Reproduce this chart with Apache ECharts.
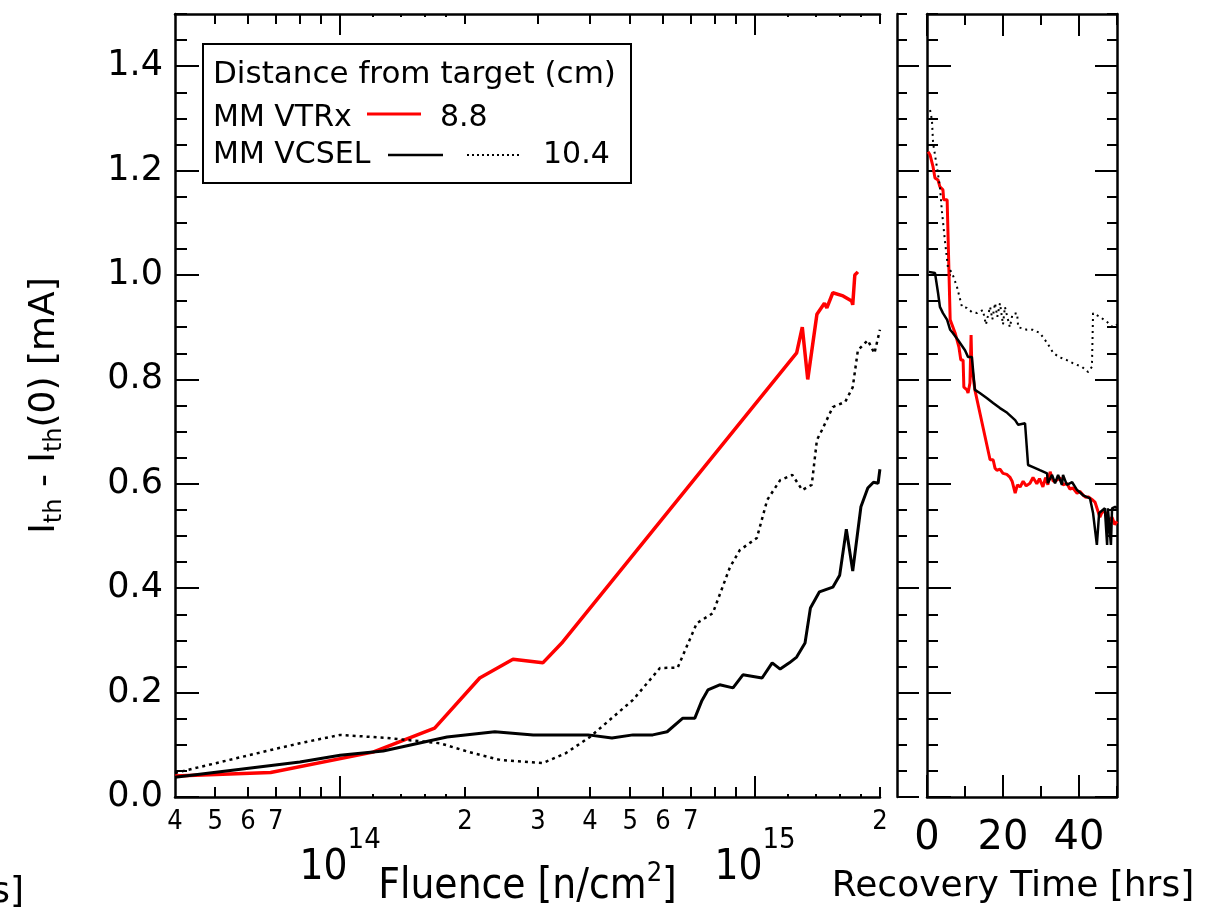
<!DOCTYPE html>
<html><head><meta charset="utf-8">
<script src="https://cdn.jsdelivr.net/npm/echarts@6/dist/echarts.min.js"></script>
<style>html,body{margin:0;padding:0;background:#fff}#c{width:1222px;height:911px}</style>
</head><body><div id="c"></div>
<script>
// ---------------- data ----------------
// MM VTRx, 8.8 cm : threshold shift vs fluence
const vtrxFluence = [4.0e13, 6.8e13, 1.2e14, 1.69e14, 2.17e14, 2.61e14, 3.08e14, 3.44e14, 1.26e15, 1.30e15, 1.34e15, 1.41e15, 1.47e15, 1.49e15, 1.54e15, 1.63e15, 1.71e15, 1.72e15, 1.74e15, 1.77e15];
const vtrxShift   = [0.040, 0.047, 0.086, 0.132, 0.228, 0.264, 0.257, 0.297, 0.851, 0.900, 0.800, 0.925, 0.946, 0.937, 0.966, 0.960, 0.950, 0.943, 1.000, 1.006];
// MM VCSEL, 8.8 cm (solid)
const vcselFluence = [4.0e13, 8.0e13, 1.0e14, 1.27e14, 1.81e14, 2.36e14, 2.92e14, 3.96e14, 4.52e14, 5.08e14, 5.67e14, 6.14e14, 6.70e14, 7.16e14, 7.45e14, 7.7e14, 8.22e14, 8.85e14, 9.35e14, 1.04e15, 1.10e15, 1.15e15, 1.21e15, 1.26e15, 1.32e15, 1.36e15, 1.43e15, 1.54e15, 1.60e15, 1.66e15, 1.72e15, 1.80e15, 1.87e15, 1.93e15, 1.98e15, 2.0e15];
const vcselShift   = [0.038, 0.067, 0.080, 0.088, 0.115, 0.125, 0.119, 0.119, 0.113, 0.119, 0.119, 0.125, 0.151, 0.151, 0.185, 0.205, 0.215, 0.209, 0.234, 0.228, 0.257, 0.245, 0.257, 0.268, 0.295, 0.362, 0.393, 0.402, 0.425, 0.513, 0.433, 0.556, 0.592, 0.603, 0.601, 0.628];
// MM VCSEL, 10.4 cm (dotted)
const vcselFarFluence = [4.0e13, 6.8e13, 8.0e13, 1.0e14, 1.30e14, 1.74e14, 2.05e14, 2.43e14, 3.08e14, 3.5e14, 4.0e14, 5.08e14, 5.90e14, 6.51e14, 7.24e14, 7.91e14, 8.70e14, 9.19e14, 1.01e15, 1.07e15, 1.15e15, 1.23e15, 1.30e15, 1.37e15, 1.41e15, 1.45e15, 1.54e15, 1.65e15, 1.72e15, 1.77e15, 1.87e15, 1.94e15, 2.0e15];
const vcselFarShift   = [0.046, 0.090, 0.103, 0.119, 0.113, 0.103, 0.086, 0.071, 0.065, 0.084, 0.115, 0.186, 0.247, 0.248, 0.333, 0.352, 0.440, 0.473, 0.496, 0.569, 0.607, 0.617, 0.588, 0.598, 0.684, 0.703, 0.747, 0.757, 0.785, 0.856, 0.875, 0.850, 0.895];

// recovery (hours after irradiation)
const vtrxHours    = [0.3, 0.8, 1.6, 2.1, 2.9, 3.4, 4.2, 4.4, 5.3, 6.1, 7.4, 8.4, 8.9, 9.5, 9.7, 10.5, 10.8, 11.3, 11.6, 11.8, 12.6, 16.6, 17.4, 17.9, 18.4, 19.2, 20.0, 21.0, 21.8, 22.4, 23.2, 23.8, 24.5, 25.3, 26.1, 27.1, 27.9, 28.9, 29.6, 30.5, 31.2, 31.8, 32.4, 33.2, 34.2, 35.0, 35.8, 36.8, 37.6, 38.4, 39.5, 40.2, 41.1, 41.8, 42.4, 43.4, 44.2, 44.7, 45.1, 45.5, 46.2, 47.1, 47.8, 48.7, 49.4, 50.0];
const vtrxRecovery = [1.236, 1.230, 1.207, 1.186, 1.182, 1.169, 1.163, 1.144, 1.144, 0.914, 0.889, 0.862, 0.837, 0.837, 0.785, 0.780, 0.774, 0.793, 0.885, 0.824, 0.780, 0.646, 0.646, 0.630, 0.626, 0.628, 0.620, 0.618, 0.613, 0.605, 0.582, 0.598, 0.594, 0.605, 0.596, 0.601, 0.612, 0.600, 0.610, 0.594, 0.612, 0.598, 0.623, 0.605, 0.607, 0.612, 0.598, 0.601, 0.590, 0.592, 0.582, 0.586, 0.578, 0.574, 0.575, 0.570, 0.565, 0.563, 0.545, 0.536, 0.548, 0.544, 0.528, 0.536, 0.522, 0.528];
const vcselHours    = [0.5, 2.1, 2.9, 3.4, 4.2, 5.3, 6.1, 6.8, 8.2, 10.0, 10.8, 11.8, 12.6, 13.9, 15.8, 17.4, 19.2, 21.1, 23.2, 24.0, 25.8, 26.3, 26.6, 27.9, 29.7, 31.6, 31.8, 32.9, 33.7, 34.5, 35.5, 35.8, 36.8, 38.2, 39.5, 41.1, 42.9, 43.7, 44.7, 45.3, 46.8, 47.4, 47.6, 48.4, 48.7, 49.5, 50.0];
const vcselRecovery = [1.006, 1.004, 0.966, 0.939, 0.927, 0.914, 0.895, 0.889, 0.875, 0.856, 0.843, 0.843, 0.780, 0.774, 0.764, 0.755, 0.745, 0.736, 0.722, 0.713, 0.716, 0.713, 0.636, 0.632, 0.626, 0.620, 0.601, 0.617, 0.601, 0.617, 0.598, 0.617, 0.598, 0.603, 0.588, 0.578, 0.572, 0.544, 0.483, 0.544, 0.553, 0.483, 0.553, 0.483, 0.553, 0.556, 0.553];
const vcselFarHours    = [0.8, 1.3, 1.6, 2.6, 3.4, 3.9, 4.7, 5.5, 6.6, 7.9, 9.2, 10.5, 11.8, 13.2, 14.7, 15.5, 16.6, 17.2, 17.9, 18.5, 19.2, 20.0, 20.5, 21.8, 22.5, 23.7, 24.0, 26.3, 27.9, 29.7, 31.6, 33.2, 34.7, 36.8, 38.4, 40.8, 42.4, 43.4, 43.7, 45.5, 47.4, 48.9, 50.0];
const vcselFarRecovery = [1.316, 1.297, 1.253, 1.207, 1.169, 1.124, 1.067, 1.015, 1.004, 0.977, 0.939, 0.937, 0.929, 0.927, 0.933, 0.905, 0.939, 0.915, 0.946, 0.920, 0.946, 0.905, 0.939, 0.900, 0.925, 0.927, 0.900, 0.895, 0.895, 0.889, 0.870, 0.851, 0.843, 0.837, 0.831, 0.824, 0.814, 0.824, 0.927, 0.920, 0.910, 0.900, 0.905];

// tick values / labels
const fluenceDigitLabels = [4e13, 5e13, 6e13, 7e13, 2e14, 3e14, 4e14, 5e14, 6e14, 7e14, 2e15];
const fluenceDecades = [1e14, 1e15];
const fluenceMinorTicks = [5e13, 6e13, 7e13, 8e13, 9e13, 2e14, 3e14, 4e14, 5e14, 6e14, 7e14, 8e14, 9e14, 2e15];
const fluenceSmallTicks = [1.2e14, 1.4e14, 1.6e14, 1.8e14, 1.2e15, 1.4e15, 1.6e15, 1.8e15];
const shiftLabels = [0, 0.2, 0.4, 0.6, 0.8, 1.0, 1.2, 1.4];
const shiftMinorTicks = [0.05, 0.1, 0.15, 0.25, 0.3, 0.35, 0.45, 0.5, 0.55, 0.65, 0.7, 0.75, 0.85, 0.9, 0.95, 1.05, 1.1, 1.15, 1.25, 1.3, 1.35, 1.45, 1.5];
const hoursLabels = [0, 20, 40];
const hoursMinorTicks = [10, 30, 50];

// ---------------- styling ----------------
const WIDE = 'DejaVu Sans';
const NARROW = "'Liberation Sans Narrow','DejaVu Sans Condensed','Liberation Sans'";
const LINE = {show: true, onZero: false, lineStyle: {color: '#000', width: 2.5}};
const NOLINE = {show: false, onZero: false};
const NOLABEL = {show: false};
function ticks(values, len) {
  return {show: true, inside: true, length: len, customValues: values, lineStyle: {color: '#000', width: 2}};
}
function pairs(xs, ys) { return xs.map((x, i) => [x, ys[i]]); }
function leadingDigit(v) { const e = Math.floor(Math.log10(v) + 1e-9); return String(Math.round(v / Math.pow(10, e))); }
function decadeLabel(v) { return '{b|10}{s|' + Math.round(Math.log10(v)) + '}'; }

function fluenceAxis(position, line, tv, len, label, extra) {
  return Object.assign({gridIndex: 0, type: 'log', logBase: 10, min: 4e13, max: 2.001e15, position: position,
    axisLine: line ? LINE : NOLINE, axisTick: ticks(tv, len), axisLabel: label || NOLABEL,
    splitLine: {show: false}, minorTick: {show: false}}, extra || {});
}
function shiftAxis(grid, position, line, tv, len, label, extra) {
  return Object.assign({gridIndex: grid, type: 'value', min: 0, max: 1.5, position: position,
    axisLine: line ? LINE : NOLINE, axisTick: ticks(tv, len), axisLabel: label || NOLABEL,
    splitLine: {show: false}}, extra || {});
}
function hoursAxis(position, line, tv, len, label, extra) {
  return Object.assign({gridIndex: 2, type: 'value', min: 0, max: 50, position: position,
    axisLine: line ? LINE : NOLINE, axisTick: ticks(tv, len), axisLabel: label || NOLABEL,
    splitLine: {show: false}}, extra || {});
}

const xAxes = [
  fluenceAxis('bottom', true, fluenceMinorTicks, 10,
    {show: true, customValues: fluenceDigitLabels, formatter: leadingDigit, color: '#000', fontFamily: NARROW, fontSize: 27, margin: 11},
    {name: '{a|Fluence [n/cm}{p|2}{a|]}', nameLocation: 'middle', nameGap: 63,
     nameTextStyle: {color: '#000', rich: {
       a: {fontFamily: NARROW, fontSize: 42, color: '#000', lineHeight: 42, padding: [12, 0, 0, 0]},
       p: {fontFamily: NARROW, fontSize: 27, color: '#000', lineHeight: 27, verticalAlign: 'top'}}}}),
  fluenceAxis('bottom', false, fluenceDecades, 21,
    {show: true, customValues: fluenceDecades, formatter: decadeLabel, margin: 29, rich: {
      b: {fontFamily: NARROW, fontSize: 42, color: '#000', lineHeight: 42, padding: [42, 0, 0, 0]},
      s: {fontFamily: NARROW, fontSize: 29, color: '#000', lineHeight: 30, verticalAlign: 'top'}}}),
  fluenceAxis('bottom', false, fluenceSmallTicks, 3),
  fluenceAxis('top', true, fluenceMinorTicks, 10),
  fluenceAxis('top', false, fluenceDecades, 21),
  fluenceAxis('top', false, fluenceSmallTicks, 3),
  {gridIndex: 1, type: 'value', show: false, min: 0, max: 1},
  hoursAxis('bottom', true, hoursLabels, 22,
    {show: true, customValues: hoursLabels, color: '#000', fontFamily: WIDE, fontSize: 40, margin: 22},
    {name: 'Recovery Time [hrs]', nameLocation: 'middle', nameGap: 72,
     nameTextStyle: {color: '#000', fontFamily: WIDE, fontSize: 36, padding: [0, 18, 0, 0]}}),
  hoursAxis('bottom', false, hoursMinorTicks, 11),
  hoursAxis('top', true, hoursLabels, 22),
  hoursAxis('top', false, hoursMinorTicks, 11)
];

const yAxes = [
  shiftAxis(0, 'left', true, shiftLabels, 24,
    {show: true, customValues: shiftLabels, formatter: v => v.toFixed(1), color: '#000', fontFamily: WIDE, fontSize: 35, margin: 12},
    {name: '{a|I}{s|th}{a| - I}{s|th}{a|(0) [mA]}', nameLocation: 'middle', nameRotate: 90, nameGap: 108,
     nameTextStyle: {color: '#000', rich: {
       a: {fontFamily: WIDE, fontSize: 36, color: '#000', lineHeight: 38, padding: [0, 0, 7, 0]},
       s: {fontFamily: WIDE, fontSize: 24, color: '#000', lineHeight: 26, verticalAlign: 'bottom'}}}}),
  shiftAxis(0, 'left', false, shiftMinorTicks, 12),
  shiftAxis(1, 'left', true, shiftLabels, 22),
  shiftAxis(1, 'left', false, shiftMinorTicks, 10),
  shiftAxis(2, 'left', true, shiftLabels, 24),
  shiftAxis(2, 'left', false, shiftMinorTicks, 11),
  shiftAxis(2, 'right', true, shiftLabels, 22),
  shiftAxis(2, 'right', false, shiftMinorTicks, 10)
];

function lineSeries(name, xi, yi, data, color, width, dash) {
  return {name: name, type: 'line', xAxisIndex: xi, yAxisIndex: yi, data: data, symbol: 'none', showSymbol: false,
    lineStyle: {color: color, width: width, type: dash || 'solid'}, itemStyle: {color: color}, emphasis: {disabled: true}};
}

const legendGraphic = {
  type: 'group', z: 100, children: [
    {type: 'rect', shape: {x: 203, y: 44, width: 428, height: 139}, style: {fill: '#fff', stroke: '#000', lineWidth: 2}},
    {type: 'text', x: 213, y: 75, style: {text: 'Distance from target (cm)', font: '31px "DejaVu Sans"', fill: '#000', verticalAlign: 'middle'}},
    {type: 'text', x: 213, y: 118, style: {text: 'MM VTRx', font: '30px "DejaVu Sans"', fill: '#000', verticalAlign: 'middle'}},
    {type: 'line', shape: {x1: 367, y1: 114, x2: 421, y2: 114}, style: {stroke: '#ff0000', lineWidth: 3}},
    {type: 'text', x: 440, y: 118, style: {text: '8.8', font: '30px "DejaVu Sans"', fill: '#000', verticalAlign: 'middle'}},
    {type: 'text', x: 213, y: 155, style: {text: 'MM VCSEL', font: '30px "DejaVu Sans"', fill: '#000', verticalAlign: 'middle'}},
    {type: 'line', shape: {x1: 388, y1: 155, x2: 443, y2: 155}, style: {stroke: '#000', lineWidth: 2.5}},
    {type: 'line', shape: {x1: 467, y1: 155, x2: 519, y2: 155}, style: {stroke: '#000', lineWidth: 2, lineDash: [2, 3]}},
    {type: 'text', x: 543, y: 155, style: {text: '10.4', font: '30px "DejaVu Sans"', fill: '#000', verticalAlign: 'middle'}}
  ]
};

const option = {
  animation: false,
  backgroundColor: '#fff',
  grid: [
    {left: 175, top: 14, width: 705, height: 783, containLabel: false, outerBoundsMode: 'none'},
    {left: 897, top: 14, width: 1, height: 783, containLabel: false, outerBoundsMode: 'none'},
    {left: 927, top: 14, width: 190, height: 783, containLabel: false, outerBoundsMode: 'none'}
  ],
  xAxis: xAxes,
  yAxis: yAxes,
  series: [
    lineSeries('MM VTRx 8.8 cm', 0, 0, pairs(vtrxFluence, vtrxShift), '#ff0000', 3.5),
    lineSeries('MM VCSEL 8.8 cm', 0, 0, pairs(vcselFluence, vcselShift), '#000', 3),
    lineSeries('MM VCSEL 10.4 cm', 0, 0, pairs(vcselFarFluence, vcselFarShift), '#000', 2.5, [3, 4]),
    lineSeries('MM VTRx 8.8 cm recovery', 7, 4, pairs(vtrxHours, vtrxRecovery), '#ff0000', 3),
    lineSeries('MM VCSEL 8.8 cm recovery', 7, 4, pairs(vcselHours, vcselRecovery), '#000', 2.5),
    lineSeries('MM VCSEL 10.4 cm recovery', 7, 4, pairs(vcselFarHours, vcselFarRecovery), '#000', 2, [2, 4])
  ],
  graphic: [
    legendGraphic,
    {type: 'text', x: 24, y: 893, z: 100, style: {text: '[hrs]', font: '36px "DejaVu Sans"', fill: '#000', align: 'right', verticalAlign: 'middle'}}
  ]
};

const chart = echarts.init(document.getElementById('c'), null, {renderer: 'canvas'});
chart.setOption(option);
</script>
</body></html>
